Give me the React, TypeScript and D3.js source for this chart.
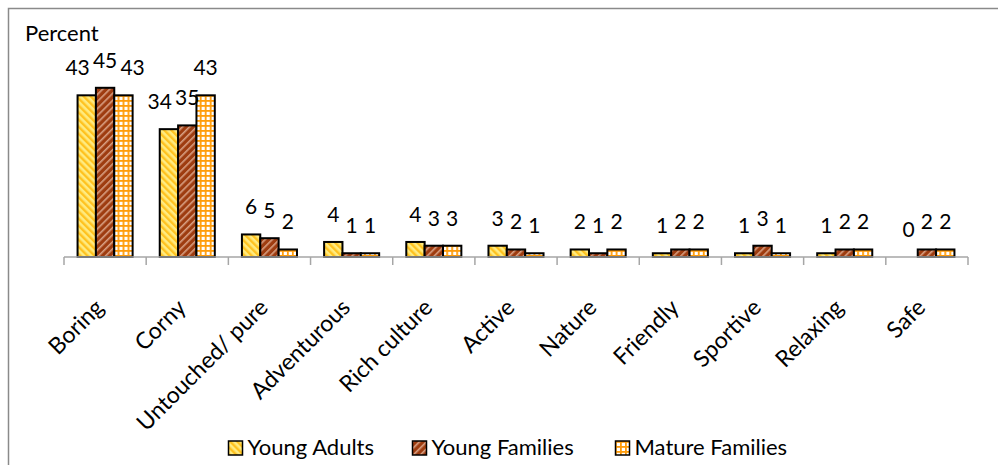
import React from "react";
import * as d3 from "d3";

const categories = [
  "Boring", "Corny", "Untouched/ pure", "Adventurous", "Rich culture",
  "Active", "Nature", "Friendly", "Sportive", "Relaxing", "Safe",
];
const seriesNames = ["Young Adults", "Young Families", "Mature Families"];
const youngAdults = [43, 34, 6, 4, 4, 3, 2, 1, 1, 1, 0];
const youngFamilies = [45, 35, 5, 1, 3, 2, 1, 2, 3, 2, 2];
const matureFamilies = [43, 43, 2, 1, 3, 1, 2, 2, 1, 2, 2];
const seriesValues = [youngAdults, youngFamilies, matureFamilies];
const patternIds = ["pat-ya", "pat-yf", "pat-mf"];

const W = 998;
const H = 465;
const FONT = "Lato, 'Open Sans', sans-serif";
const LABEL_SIZE = 21;
const LABEL_GAP = 20;

type Label = { x: number; y: number; w: number; h: number; v: number };

// Nudge overlapping value labels within a group apart: the label of the
// smaller bar gives way and moves outward, away from its neighbour.
function spreadLabels(labels: Label[]): Label[] {
  const out = labels.map((l) => ({ ...l }));
  const overlaps = (a: Label, b: Label) =>
    Math.abs(a.x - b.x) < (a.w + b.w) / 2 + 3 && Math.abs(a.y - b.y) < a.h;
  const mid = out.reduce((m, l, i) => (l.v > out[m].v ? i : m), 0);
  for (let i = mid - 1; i >= 0; i--) {
    const a = out[i];
    const b = out[i + 1];
    if (overlaps(a, b)) a.x = b.x - (a.w + b.w) / 2 - 4;
  }
  for (let i = mid + 1; i < out.length; i++) {
    const a = out[i];
    const b = out[i - 1];
    if (overlaps(a, b)) a.x = b.x + (a.w + b.w) / 2 + 4;
  }
  return out;
}

export default function App() {
  const x0 = d3
    .scaleBand<string>()
    .domain(categories)
    .range([64, 968])
    .paddingInner(0.33)
    .paddingOuter(0.165);
  const x1 = d3
    .scaleBand<string>()
    .domain(seriesNames)
    .range([0, x0.bandwidth()]);
  const y = d3.scaleLinear().domain([0, 50]).range([257, 69]);
  const baseY = y(0);

  // tick positions at category boundaries
  const step = x0.step();
  const tickXs = d3.range(categories.length + 1).map((i) => 64 + i * step);

  const legendX = [228, 412, 615];

  const valueLabels = categories.map((cat, ci) =>
    spreadLabels(
      seriesNames.map((s, si) => {
        const v = seriesValues[si][ci];
        return {
          x: (x0(cat) ?? 0) + (x1(s) ?? 0) + x1.bandwidth() / 2,
          y: y(v) - LABEL_GAP,
          w: String(v).length * LABEL_SIZE * 0.56,
          h: LABEL_SIZE * 0.75,
          v,
        };
      })
    )
  );

  return (
    <svg
      width={W}
      height={H}
      style={{ position: "absolute", left: 0, top: 0, background: "#fff" }}
      fontFamily={FONT}
    >
      <defs>
        <pattern id="pat-ya" width={5} height={5} patternUnits="userSpaceOnUse" patternTransform="rotate(-45)">
          <rect width={5} height={5} fill="#FFEB80" />
          <rect width={2.4} height={5} fill="#FFC21F" />
        </pattern>
        <pattern id="pat-yf" width={5} height={5} patternUnits="userSpaceOnUse" patternTransform="rotate(45)">
          <rect width={5} height={5} fill="#9E3C10" />
          <rect width={1.6} height={5} fill="#D8A083" />
        </pattern>
        <pattern id="pat-mf" width={5} height={5} patternUnits="userSpaceOnUse">
          <rect width={5} height={5} fill="#FFFFFF" />
          <rect width={1.8} height={5} fill="#FF9C0A" />
          <rect width={5} height={1.8} fill="#FF9C0A" />
        </pattern>
      </defs>

      {/* chart frame */}
      <rect x={8.5} y={8.5} width={1000} height={1000} fill="#fff" stroke="#8a8a8a" strokeWidth={1.5} />

      <text x={25} y={41} fontSize={22} fill="#000">Percent</text>

      {/* bars */}
      {categories.map((cat, ci) => (
        <g key={cat} transform={`translate(${x0(cat)},0)`}>
          {seriesNames.map((s, si) => {
            const v = seriesValues[si][ci];
            if (v <= 0) return null;
            return (
              <rect
                key={s}
                x={x1(s)}
                y={y(v)}
                width={x1.bandwidth()}
                height={baseY - y(v)}
                fill={`url(#${patternIds[si]})`}
                stroke="#000"
                strokeWidth={2}
              />
            );
          })}
        </g>
      ))}

      {/* axis */}
      <line x1={64} x2={968} y1={baseY} y2={baseY} stroke="#a6a6a6" strokeWidth={1.5} />
      {tickXs.map((tx, i) => (
        <line key={i} x1={tx} x2={tx} y1={baseY} y2={baseY + 8} stroke="#a6a6a6" strokeWidth={1.5} />
      ))}

      {/* value labels */}
      {valueLabels.map((group, ci) =>
        group.map((l, si) => (
          <text
            key={`${ci}-${si}`}
            x={l.x}
            y={l.y}
            fontSize={LABEL_SIZE}
            textAnchor="middle"
            fill="#000"
          >
            {l.v}
          </text>
        ))
      )}

      {/* category labels */}
      {categories.map((cat) => {
        const cx = (x0(cat) ?? 0) + x0.bandwidth() / 2;
        return (
          <text
            key={cat}
            transform={`translate(${cx},309) rotate(-45)`}
            textAnchor="end"
            fontSize={23}
            fill="#000"
          >
            {cat}
          </text>
        );
      })}

      {/* legend */}
      {seriesNames.map((s, si) => (
        <g key={s} transform={`translate(${legendX[si]},441)`}>
          <rect x={0.5} y={0} width={14} height={14} fill={`url(#${patternIds[si]})`} stroke="#000" strokeWidth={1.5} />
          <text x={19.5} y={14} fontSize={22} fill="#000">{s}</text>
        </g>
      ))}
    </svg>
  );
}
